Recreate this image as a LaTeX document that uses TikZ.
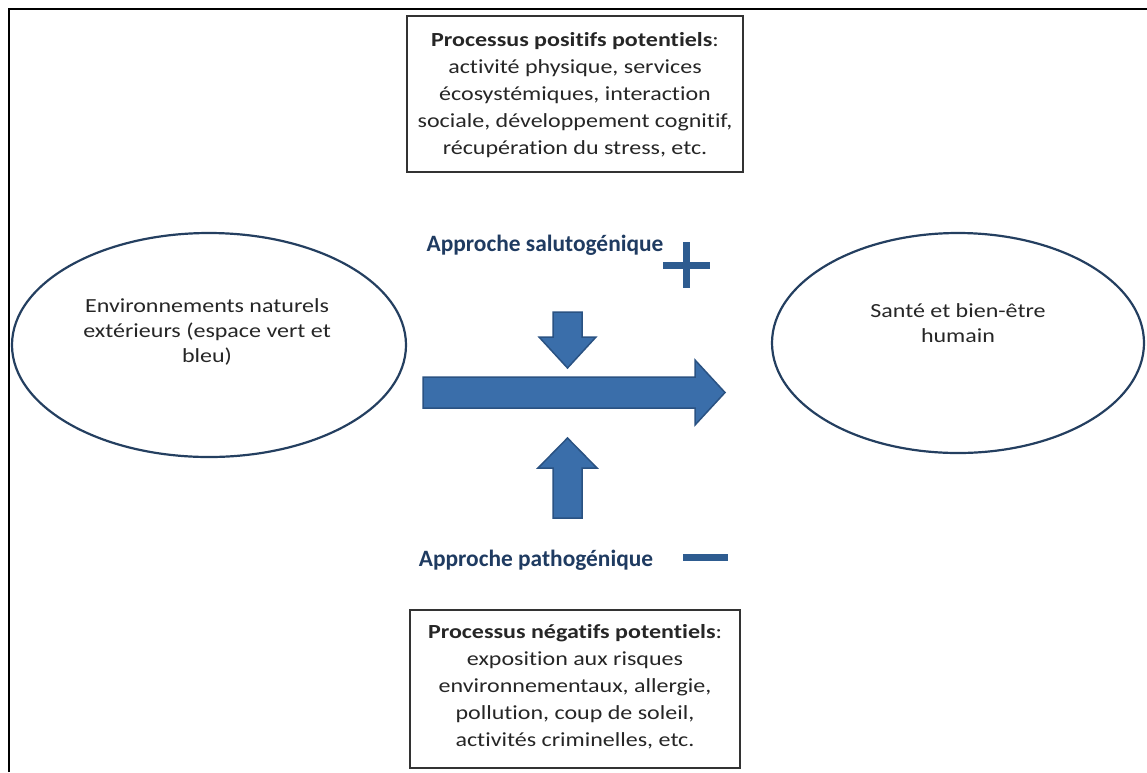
\documentclass[tikz,border=0pt]{standalone}
\usepackage{fontspec}
\setmainfont[FakeStretch=1.2, Ligatures=NoCommon]{Carlito}
\newfontfamily\apfont[Ligatures=NoCommon]{Carlito}
\usetikzlibrary{shapes.geometric}
\definecolor{navy}{HTML}{1F3B61}
\definecolor{ellline}{HTML}{243F60}
\definecolor{afill}{HTML}{3A6EAA}
\definecolor{aline}{HTML}{2A5282}
\definecolor{signblue}{HTML}{2E5C90}
\begin{document}
\begin{tikzpicture}[x=1pt,y=-1pt,
  ell/.style={ellipse, draw=ellline, line width=2.2pt, inner sep=0pt},
  lbl/.style={align=center, font=\fontsize{20}{25}\selectfont, text=black!85},
  proc/.style={draw=black!80, line width=1.3pt, inner sep=0pt},
  proctext/.style={align=center, font=\fontsize{20}{27}\selectfont, text=black!85},
  appr/.style={font=\apfont\bfseries\fontsize{23.4}{28}\selectfont, text=navy},
  fat/.style={fill=afill, draw=aline, line width=1.5pt, line join=miter},
  sign/.style={fill=signblue, draw=none}]
\useasboundingbox (0,0) rectangle (1147,772);
% frame
\draw[line width=2pt] (9,772) -- (9,9) -- (1147,9);
% ellipses
\node[ell, minimum width=394pt, minimum height=224pt] (env) at (209,345) {};
\node[lbl] (envT) at (207,332) {Environnements naturels\\extérieurs (espace vert et\\bleu)};
\node[ell, minimum width=372pt, minimum height=220pt] (sante) at (958,343) {};
\node[lbl] (santeT) at (958,323) {Santé et bien-être\\humain};
% boxes
\node[proc, minimum width=336pt, minimum height=156pt] (pos) at (575,94) {};
\node[proctext] (posT) at (575,95) {\textbf{Processus positifs potentiels}:\\activité physique, services\\écosystémiques, interaction\\sociale, développement cognitif,\\récupération du stress, etc.};
\node[proc, minimum width=330pt, minimum height=158pt] (neg) at (575,689) {};
\node[proctext] (negT) at (575,687) {\textbf{Processus négatifs potentiels}:\\exposition aux risques\\environnementaux, allergie,\\pollution, coup de soleil,\\activités criminelles, etc.};
% approaches
\node[appr] (salu) at (545,245) {Approche salutogénique};
\node[appr] (patho) at (536,560) {Approche pathogénique};
% plus / minus
\fill[sign] (663,261.5) rectangle (710,268.5);
\fill[sign] (682.5,242) rectangle (689.5,288);
\fill[sign] (683,553.5) rectangle (728,560.5);
% big arrow
\draw[fat] (423,377) -- (695,377) -- (695,360) -- (725,392.5) -- (695,425) -- (695,408) -- (423,408) -- cycle;
% down arrow
\draw[fat] (553,312) -- (582,312) -- (582,337) -- (596,337) -- (567.5,368) -- (539,337) -- (553,337) -- cycle;
% up arrow
\draw[fat] (553,518) -- (582,518) -- (582,468) -- (597,468) -- (567.5,438) -- (538,468) -- (553,468) -- cycle;
\end{tikzpicture}
\end{document}
